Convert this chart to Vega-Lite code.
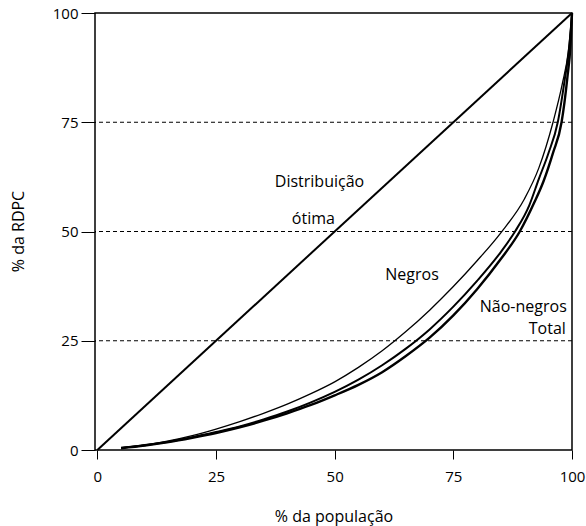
{
  "$schema": "https://vega.github.io/schema/vega-lite/v6.json",
  "width": 477,
  "height": 437,
  "autosize": {"type": "none"},
  "padding": {"left": 95, "top": 13, "right": 14, "bottom": 76},
  "config": {
    "view": {"stroke": "black", "strokeWidth": 1.5},
    "font": "Open Sans",
    "text": {"font": "Open Sans"}
  },
  "datasets": {
    "curvas": [
      {"serie": "Distribuição ótima", "x": 0, "y": 0},
      {"serie": "Distribuição ótima", "x": 100, "y": 100},
      {"serie": "Negros", "x": 5, "y": 0.5},
      {"serie": "Negros", "x": 10, "y": 1.2},
      {"serie": "Negros", "x": 15, "y": 2.1},
      {"serie": "Negros", "x": 20, "y": 3.3},
      {"serie": "Negros", "x": 25, "y": 4.8},
      {"serie": "Negros", "x": 30, "y": 6.5},
      {"serie": "Negros", "x": 35, "y": 8.4},
      {"serie": "Negros", "x": 40, "y": 10.5},
      {"serie": "Negros", "x": 45, "y": 12.9},
      {"serie": "Negros", "x": 50, "y": 15.6},
      {"serie": "Negros", "x": 55, "y": 18.9},
      {"serie": "Negros", "x": 60, "y": 22.7},
      {"serie": "Negros", "x": 65, "y": 27.1},
      {"serie": "Negros", "x": 70, "y": 32.0},
      {"serie": "Negros", "x": 75, "y": 37.4},
      {"serie": "Negros", "x": 80, "y": 43.3},
      {"serie": "Negros", "x": 85, "y": 49.7},
      {"serie": "Negros", "x": 90, "y": 57.5},
      {"serie": "Negros", "x": 93, "y": 64.5},
      {"serie": "Negros", "x": 96, "y": 75},
      {"serie": "Negros", "x": 98, "y": 84},
      {"serie": "Negros", "x": 99.2, "y": 91},
      {"serie": "Negros", "x": 100, "y": 100},
      {"serie": "Não-negros", "x": 5, "y": 0.5},
      {"serie": "Não-negros", "x": 10, "y": 1.1},
      {"serie": "Não-negros", "x": 15, "y": 1.9},
      {"serie": "Não-negros", "x": 20, "y": 2.9},
      {"serie": "Não-negros", "x": 25, "y": 4.1},
      {"serie": "Não-negros", "x": 30, "y": 5.4},
      {"serie": "Não-negros", "x": 35, "y": 7.0},
      {"serie": "Não-negros", "x": 40, "y": 8.8},
      {"serie": "Não-negros", "x": 45, "y": 10.9},
      {"serie": "Não-negros", "x": 50, "y": 13.3},
      {"serie": "Não-negros", "x": 55, "y": 16.1},
      {"serie": "Não-negros", "x": 60, "y": 19.4},
      {"serie": "Não-negros", "x": 65, "y": 23.2},
      {"serie": "Não-negros", "x": 70, "y": 27.6},
      {"serie": "Não-negros", "x": 75, "y": 32.8},
      {"serie": "Não-negros", "x": 80, "y": 38.7},
      {"serie": "Não-negros", "x": 85, "y": 45.3},
      {"serie": "Não-negros", "x": 88, "y": 50},
      {"serie": "Não-negros", "x": 91, "y": 56},
      {"serie": "Não-negros", "x": 93, "y": 62},
      {"serie": "Não-negros", "x": 95, "y": 67.8},
      {"serie": "Não-negros", "x": 97, "y": 75},
      {"serie": "Não-negros", "x": 98.5, "y": 85},
      {"serie": "Não-negros", "x": 99.5, "y": 93},
      {"serie": "Não-negros", "x": 100, "y": 100},
      {"serie": "Total", "x": 5, "y": 0.4},
      {"serie": "Total", "x": 10, "y": 1.0},
      {"serie": "Total", "x": 15, "y": 1.8},
      {"serie": "Total", "x": 20, "y": 2.8},
      {"serie": "Total", "x": 25, "y": 3.9},
      {"serie": "Total", "x": 30, "y": 5.2},
      {"serie": "Total", "x": 35, "y": 6.7},
      {"serie": "Total", "x": 40, "y": 8.4},
      {"serie": "Total", "x": 45, "y": 10.3},
      {"serie": "Total", "x": 50, "y": 12.5},
      {"serie": "Total", "x": 55, "y": 14.9},
      {"serie": "Total", "x": 60, "y": 17.8},
      {"serie": "Total", "x": 65, "y": 21.5},
      {"serie": "Total", "x": 70, "y": 25.7},
      {"serie": "Total", "x": 75, "y": 30.8},
      {"serie": "Total", "x": 80, "y": 36.8},
      {"serie": "Total", "x": 85, "y": 43.7},
      {"serie": "Total", "x": 89, "y": 50},
      {"serie": "Total", "x": 92, "y": 56.5},
      {"serie": "Total", "x": 94, "y": 61.5},
      {"serie": "Total", "x": 96, "y": 68},
      {"serie": "Total", "x": 97.8, "y": 75},
      {"serie": "Total", "x": 99, "y": 85},
      {"serie": "Total", "x": 99.7, "y": 93},
      {"serie": "Total", "x": 100, "y": 100}
    ]
  },
  "layer": [
    {
      "data": {"name": "curvas"},
      "transform": [{"filter": "datum.serie == 'Distribuição ótima'"}],
      "mark": {"type": "line", "color": "black", "strokeWidth": 2},
      "encoding": {
        "x": {
          "field": "x",
          "type": "quantitative",
          "scale": {"domain": [-0.5, 100], "nice": false, "zero": false},
          "axis": {
            "values": [0, 25, 50, 75, 100],
            "title": "% da população",
            "domain": false,
            "grid": false,
            "tickSize": 9,
            "tickColor": "black",
            "tickWidth": 1,
            "labelFlush": false,
            "labelOverlap": false,
            "labelFontSize": 15,
            "labelColor": "black",
            "labelPadding": 10,
            "titleFontSize": 16,
            "titleFontWeight": "normal",
            "titleColor": "black",
            "titleY": 71,
            "titleBaseline": "alphabetic"
          }
        },
        "y": {
          "field": "y",
          "type": "quantitative",
          "scale": {"domain": [0, 100], "nice": false},
          "axis": {
            "values": [0, 25, 50, 75, 100],
            "title": "% da RDPC",
            "domain": false,
            "grid": false,
            "tickSize": 14,
            "tickColor": "black",
            "tickWidth": 1,
            "labelFlush": false,
            "labelOverlap": false,
            "labelFontSize": 15,
            "labelColor": "black",
            "labelPadding": 3,
            "titleFontSize": 16,
            "titleFontWeight": "normal",
            "titleColor": "black",
            "titleX": -77,
            "titleY": 218,
            "titleAlign": "center",
            "titleBaseline": "middle"
          }
        }
      }
    },
    {
      "data": {"name": "curvas"},
      "transform": [{"filter": "datum.serie == 'Negros'"}],
      "mark": {"type": "line", "color": "black", "strokeWidth": 1.3, "interpolate": "monotone"},
      "encoding": {
        "x": {"field": "x", "type": "quantitative"},
        "y": {"field": "y", "type": "quantitative"}
      }
    },
    {
      "data": {"name": "curvas"},
      "transform": [{"filter": "datum.serie == 'Não-negros'"}],
      "mark": {"type": "line", "color": "black", "strokeWidth": 2, "interpolate": "monotone"},
      "encoding": {
        "x": {"field": "x", "type": "quantitative"},
        "y": {"field": "y", "type": "quantitative"}
      }
    },
    {
      "data": {"name": "curvas"},
      "transform": [{"filter": "datum.serie == 'Total'"}],
      "mark": {"type": "line", "color": "black", "strokeWidth": 2.4, "interpolate": "monotone"},
      "encoding": {
        "x": {"field": "x", "type": "quantitative"},
        "y": {"field": "y", "type": "quantitative"}
      }
    },
    {
      "data": {"values": [{"y": 25}, {"y": 50}, {"y": 75}]},
      "mark": {"type": "rule", "strokeDash": [4, 3], "color": "black", "strokeWidth": 1},
      "encoding": {
        "y": {"field": "y", "type": "quantitative"}
      }
    },
    {
      "data": {
        "values": [
          {"label": "Distribuição", "x": 46.8, "y": 60.2},
          {"label": "ótima", "x": 45.5, "y": 51.7},
          {"label": "Negros", "x": 66.3, "y": 39.0}
        ]
      },
      "mark": {"type": "text", "fontSize": 16, "color": "black", "baseline": "alphabetic", "align": "center"},
      "encoding": {
        "x": {"field": "x", "type": "quantitative"},
        "y": {"field": "y", "type": "quantitative"},
        "text": {"field": "label"}
      }
    },
    {
      "data": {
        "values": [
          {"label": "Não-negros", "x": 98.9, "y": 31.5},
          {"label": "Total", "x": 98.7, "y": 26.5}
        ]
      },
      "mark": {"type": "text", "fontSize": 16, "color": "black", "baseline": "alphabetic", "align": "right"},
      "encoding": {
        "x": {"field": "x", "type": "quantitative"},
        "y": {"field": "y", "type": "quantitative"},
        "text": {"field": "label"}
      }
    }
  ]
}
